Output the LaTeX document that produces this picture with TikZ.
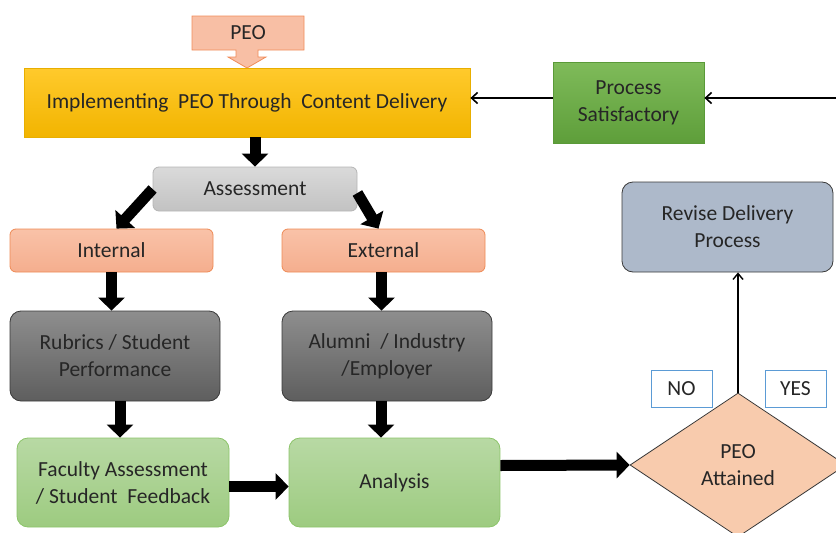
\documentclass[tikz,border=0pt]{standalone}
\usepackage{fontspec}
\setmainfont{Carlito}
\usetikzlibrary{arrows.meta,shapes.geometric,calc}
\definecolor{peofill}{HTML}{F8BFA5}
\definecolor{peoline}{HTML}{F08C5A}
\definecolor{yeltop}{HTML}{FFCA2C}
\definecolor{yelbot}{HTML}{F2B400}
\definecolor{yelline}{HTML}{E8AE00}
\definecolor{grntop}{HTML}{7FBB5A}
\definecolor{grnbot}{HTML}{5E9E3A}
\definecolor{grnline}{HTML}{5A9A38}
\definecolor{gratop}{HTML}{DADADA}
\definecolor{grabot}{HTML}{C2C2C2}
\definecolor{graline}{HTML}{B5B5B5}
\definecolor{saltop}{HTML}{F9C2A8}
\definecolor{salbot}{HTML}{F5AE8E}
\definecolor{salline}{HTML}{EE8A55}
\definecolor{dktop}{HTML}{8E8E8E}
\definecolor{dkbot}{HTML}{5E5E5E}
\definecolor{dkline}{HTML}{3A3A3A}
\definecolor{lgtop}{HTML}{B8D9A4}
\definecolor{lgbot}{HTML}{9DCB80}
\definecolor{lgline}{HTML}{8CC46A}
\definecolor{revfill}{HTML}{ADB9CA}
\definecolor{diafill}{HTML}{F8CBAD}
\definecolor{nybox}{HTML}{5B9BD5}
\definecolor{txt}{HTML}{262626}
\begin{document}
\begin{tikzpicture}[x=1pt,y=-1pt,
  every node/.style={font=\fontsize{21.5}{27}\selectfont, text=txt, align=center, inner sep=2pt},
  boxbase/.style={rectangle, line width=0.8pt},
  implbox/.style={boxbase, draw=yelline, top color=yeltop, bottom color=yelbot},
  procbox/.style={boxbase, draw=grnline, top color=grntop, bottom color=grnbot},
  asmbox/.style={boxbase, rounded corners=6pt, draw=graline, top color=gratop, bottom color=grabot},
  salbox/.style={boxbase, rounded corners=6pt, draw=salline, top color=saltop, bottom color=salbot},
  dkbox/.style={boxbase, rounded corners=11pt, draw=dkline, top color=dktop, bottom color=dkbot},
  lgbox/.style={boxbase, rounded corners=11pt, draw=lgline, top color=lgtop, bottom color=lgbot},
  revbox/.style={boxbase, rounded corners=11pt, draw=dkline, fill=revfill},
  nybox/.style={rectangle, draw=nybox, fill=white, line width=0.9pt, minimum width=61pt, minimum height=37pt},
  fat/.style={line width=11pt, -{Triangle[length=13pt,width=26pt]}},
  thin/.style={line width=1.6pt, -{Straight Barb[length=6pt,width=11pt]}},
]
\useasboundingbox (0,0) rectangle (836,533);

% PEO callout
\path[fill=peofill, draw=peoline, line width=0.8pt]
  (192,16) -- (304,16) -- (304,50) -- (258,50) -- (258,57) -- (266,57) -- (247,68)
  -- (228,57) -- (236,57) -- (236,50) -- (192,50) -- cycle;
\node (peo) at (248,33) {PEO};

\node[implbox, minimum width=446pt, minimum height=69pt] (impl) at (247,102.5)
  {Implementing\ \ PEO Through\ \ Content Delivery};
\node[procbox, minimum width=151pt, minimum height=81pt] (proc) at (628.5,102.5)
  {Process\\Satisfactory};
\node[asmbox, minimum width=204pt, minimum height=44pt] (asm) at (255,189) {Assessment};
\node[salbox, minimum width=203pt, minimum height=43pt] (int) at (111.5,250.5) {Internal};
\node[salbox, minimum width=203pt, minimum height=43pt] (ext) at (383.5,250.5) {External};
\node[dkbox, minimum width=210pt, minimum height=90pt] (rub) at (115,356)
  {Rubrics\ /\ Student\\Performance};
\node[dkbox, minimum width=210pt, minimum height=90pt] (alu) at (387,356)
  {Alumni\ \ /\ Industry\\/Employer};
\node[lgbox, minimum width=212pt, minimum height=89pt] (fac) at (123,482.5)
  {Faculty Assessment\\/ Student\ \ Feedback};
\node[lgbox, minimum width=211pt, minimum height=89pt] (ana) at (394.5,482.5) {Analysis};
\node[revbox, minimum width=211pt, minimum height=90pt] (rev) at (727.5,227)
  {Revise Delivery\\Process};
\node[diamond, draw=dkline, fill=diafill, line width=0.8pt, inner sep=0pt,
  minimum width=216pt, minimum height=144pt] (dia) at (738,465) {PEO\\Attained};
\node[nybox] (no) at (681.5,388.5) {NO};
\node[nybox] (yes) at (795.5,388.5) {YES};

\coordinate (rin) at (836,98);

% connectors
\draw[thin] (rin) -- (rin -| proc.east);
\draw[thin] (proc.west |- rin) -- (rin -| impl.east);
\draw[fat] (impl.south -| asm.north) -- (asm.north);
\draw[fat] ($(asm.west)+(0,0)$) -- ($(int.north)+(5,0)$);
\draw[fat] ($(asm.east)+(0,4)$) -- ($(ext.north)+(-5,0)$);
\draw[fat] (int.south) -- (int.south |- rub.north);
\draw[fat] ($(ext.south)+(-2,0)$) -- ($(ext.south |- alu.north)+(-2,0)$);
\draw[fat] ($(rub.south)+(5,0)$) -- ($(rub.south |- fac.north)+(5,0)$);
\draw[fat] ($(alu.south)+(-6,0)$) -- ($(alu.south |- ana.north)+(-6,0)$);
\draw[fat] ($(fac.east)+(0,4)$) -- ($(fac.east -| ana.west)+(0,4)$);
\draw[fat] ($(ana.east)+(0,-17)$) -- (dia.west);
\draw[line width=1.4pt, -{Straight Barb[length=6pt,width=10pt]}] (dia.north) -- (dia.north |- rev.south);
\end{tikzpicture}
\end{document}
